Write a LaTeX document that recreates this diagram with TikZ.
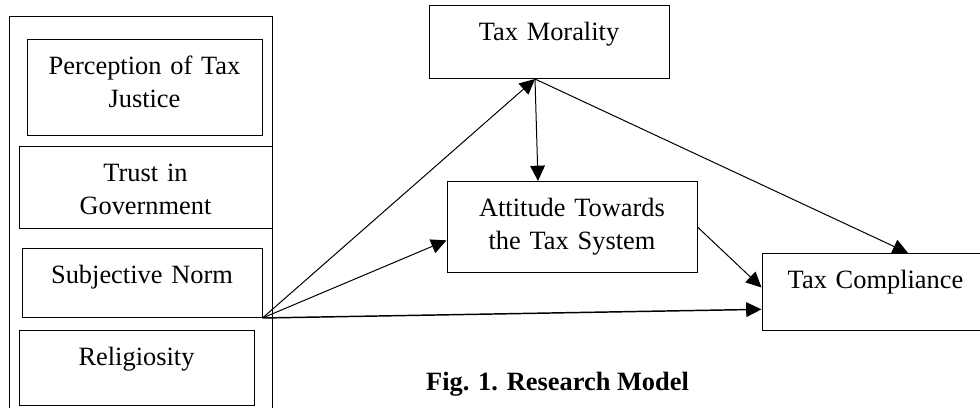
\documentclass[tikz,border=0pt]{standalone}
\usepackage{fontspec}
\setmainfont{Liberation Serif}
\usetikzlibrary{arrows.meta}

\begin{document}
\begin{tikzpicture}[x=0.75pt, y=-0.75pt, line width=0.75pt,
  every node/.style={font=\fontsize{19.8}{24.75}\selectfont},
  box/.style 2 args={draw, anchor=north, inner sep=0pt, align=center,
    text width=#1, text height=26.25pt, text depth=#2},
  arr/.style={-{Triangle[length=11.5pt, width=11pt]}, line width=0.75pt}]
\useasboundingbox (0,0) rectangle (980,407);
\clip (0,0) rectangle (980,407);

\draw (9,430) -- (9,16) -- (272,16) -- (272,430);

\node[box={176.25pt}{45.75pt}] (justice) at (144.5,39) {Perception of Tax\\Justice};
\node[box={189.75pt}{35.25pt}] (trust) at (145.5,146) {Trust in\\Government};
\node[box={180pt}{25.5pt}] (norm) at (142,248) {Subjective Norm};
\node[box={176.25pt}{30pt}] (relig) at (136.5,330) {Religiosity};

\node[box={180pt}{28.5pt}] (moral) at (549,5) {Tax Morality};
\node[box={187.5pt}{42pt}] (attit) at (572,181) {Attitude Towards\\the Tax System};
\node[box={170.25pt}{31.5pt}] (comp) at (875.5,253) {Tax Compliance};

\node[anchor=base, font=\fontsize{19.8}{24.75}\selectfont\bfseries] (caption) at (557.5,390) {Fig. 1. Research Model};

\coordinate (mb) at ([xshift=-10.5pt]moral.south);

\draw[arr] (norm.south east) -- (mb);
\draw[arr] (norm.south east) -- ([yshift=-10pt]attit.west);
\draw[arr, line width=1.1pt] (norm.south east) -- ([yshift=-13pt]comp.west);
\draw[arr] (mb) -- ([xshift=-25.5pt]attit.north);
\draw[arr] (mb) -- ([xshift=24.4pt]comp.north);
\draw[arr] (attit.east) -- ([yshift=3.4pt]comp.west);
\end{tikzpicture}
\end{document}
